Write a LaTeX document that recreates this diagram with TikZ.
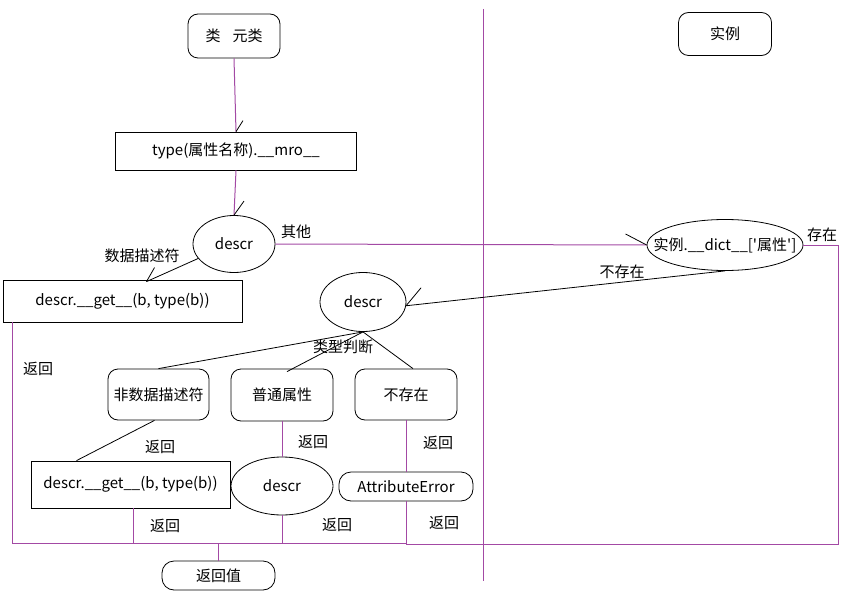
\documentclass[tikz,border=0pt]{standalone}
\usepackage{fontspec}
\setmainfont{Noto Sans CJK SC}[Ligatures=TeXOff]
\usetikzlibrary{shapes.geometric}

\definecolor{paintpurple}{RGB}{163,73,164}

\begin{document}
\begin{tikzpicture}[x=1pt, y=-1pt, line width=0.8pt,
  every node/.style={font=\fontsize{15}{17}\selectfont, inner sep=0pt},
  roundbox/.style={draw, rounded corners=10pt},
  plainbox/.style={draw},
  oval/.style={draw, ellipse},
  link/.style={paintpurple, line width=1pt}]

  \useasboundingbox (0,0) rectangle (858,604);


  \node[roundbox, minimum width=92pt, minimum height=44pt] (cls) at (234,36) {类\hspace{12pt}元类};
  \node[roundbox, minimum width=93pt, minimum height=43pt] (inst) at (725,34) {实例};

  \node[plainbox, minimum width=241pt, minimum height=38pt] (mro) at (236,151) {type(属性名称).\_\_mro\_\_};
  \node[oval, minimum width=82pt, minimum height=57pt] (descrA) at (234,244) {descr};
  \node[oval, inner xsep=-20pt, minimum width=156pt, minimum height=51pt] (dict) at (725,245) {实例.\_\_dict\_\_['属性']};

  \node[plainbox, minimum width=239pt, minimum height=42pt] (getA) at (122.5,301) {descr.\_\_get\_\_(b, type(b))};
  \node[oval, minimum width=86pt, minimum height=59pt] (descrB) at (363,302) {descr};

  \node[roundbox, minimum width=101pt, minimum height=51pt] (nondata) at (158.5,394.5) {非数据描述符};
  \node[roundbox, minimum width=102pt, minimum height=52pt] (plain) at (282,395) {普通属性};
  \node[roundbox, minimum width=102pt, minimum height=51pt] (missing) at (406,394.5) {不存在};

  \node[plainbox, minimum width=199pt, minimum height=47pt] (getB) at (130.5,484.5) {descr.\_\_get\_\_(b, type(b))};
  \node[oval, minimum width=102pt, minimum height=58pt] (descrC) at (282,486) {descr};
  \node[roundbox, rounded corners=12pt, minimum width=134pt, minimum height=29pt] (attr) at (406,486.5) {AttributeError};

  \node[roundbox, rounded corners=12pt, minimum width=113pt, minimum height=29pt] (result) at (218.5,575.5) {返回值};

  \coordinate (joinL) at (407,543);
  \coordinate (joinR) at (838,544);


  \draw[link] (483,9) -- (483,581);

  \draw[link] (cls.south) -- (mro.north);
  \draw (mro.north) -- ++(7,-11);
  \draw[link] (mro.south) -- (descrA.north);
  \draw (descrA.north) -- ++(10,-14);

  \draw[link] (descrA.east) -- (dict.west);
  \draw (dict.west) -- ++(-21,-11);
  \draw (dict.south) -- (descrB.-5);
  \draw (descrB.-5) -- ++(15,-18);

  \draw (descrA.202) -- ([xshift=24pt, yshift=-2pt]getA.north);
  \draw ([xshift=24pt, yshift=-2pt]getA.north) -- ++(8,-14);

  \draw (descrB.south) -- (nondata.north);
  \draw (descrB.south) -- ([xshift=5pt, yshift=-3pt]plain.north);
  \draw (descrB.south) -- ([xshift=7pt]missing.north);
  \draw ([xshift=-4pt]nondata.south) -- ([xshift=-54pt]getB.north);

  \draw[link] (plain.south) -- (descrC.north);
  \draw[link] (missing.south) -- (attr.north);

  \draw[link] ([xshift=10pt]getA.south west) |- (joinL);
  \draw[link] ([xshift=2.5pt]getB.south) -- ([xshift=2.5pt]getB.south |- joinL);
  \draw[link] (descrC.south) -- (descrC.south |- joinL);
  \draw[link] (result.north) -- (result.north |- joinL);
  \draw[link] (attr.south) |- (joinR) |- (dict.east);


  \node (l1) at (296,232) {其他};
  \node (l2) at (142,256) {数据描述符};
  \node (l3) at (622,272) {不存在};
  \node (l4) at (822,235) {存在};
  \node (l5) at (343,347) {类型判断};
  \node (l6) at (38,369) {返回};
  \node (l7) at (160,447) {返回};
  \node (l8) at (313,442) {返回};
  \node (l9) at (438,443) {返回};
  \node (l10) at (165,526) {返回};
  \node (l11) at (337,525) {返回};
  \node (l12) at (444,523) {返回};


\end{tikzpicture}
\end{document}
